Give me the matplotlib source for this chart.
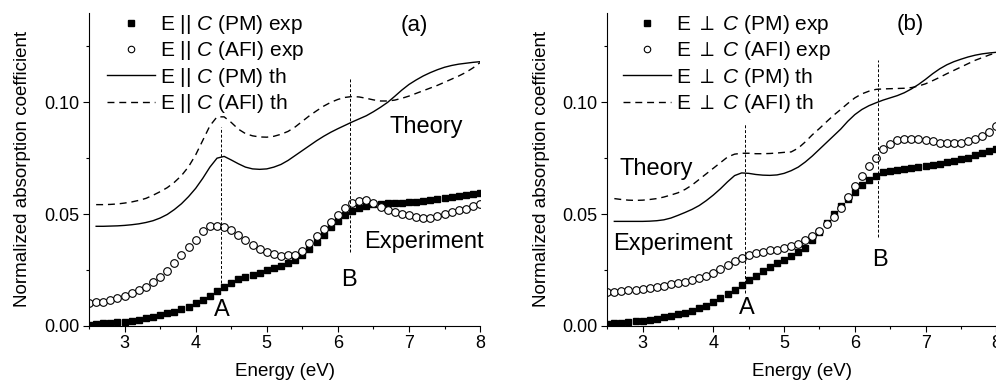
import numpy as np
import matplotlib
matplotlib.use('Agg')
import matplotlib.pyplot as plt

plt.rcParams['font.family'] = ['Liberation Sans', 'DejaVu Sans']
plt.rcParams['mathtext.fontset'] = 'custom'
plt.rcParams['mathtext.rm'] = 'Liberation Sans'
plt.rcParams['mathtext.it'] = 'Liberation Sans:italic'

# energy grids (eV)
energy_exp = np.round(np.arange(2.5, 8.01, 0.1), 2)
energy_th = np.round(np.arange(2.6, 8.01, 0.1), 2)

# ---- panel (a): E || C ----
a_pm_exp = [0.0005, 0.0008, 0.0010, 0.0012, 0.0015, 0.0018, 0.0022, 0.0027, 0.0033, 0.0040,
            0.0047, 0.0055, 0.0063, 0.0073, 0.0085, 0.0100, 0.0117, 0.0135, 0.0155, 0.0175,
            0.0193, 0.0207, 0.0218, 0.0228, 0.0238, 0.0248, 0.0258, 0.0268, 0.0280, 0.0295,
            0.0318, 0.0345, 0.0375, 0.0408, 0.0442, 0.0470, 0.0494, 0.0512, 0.0526, 0.0536,
            0.0543, 0.0547, 0.0549, 0.0550, 0.0551, 0.0552, 0.0555, 0.0559, 0.0564, 0.0569,
            0.0573, 0.0578, 0.0582, 0.0587, 0.0591, 0.0595]
a_afi_exp = [0.0100, 0.0104, 0.0108, 0.0116, 0.0125, 0.0135, 0.0145, 0.0158, 0.0175, 0.0195,
             0.0218, 0.0245, 0.0280, 0.0318, 0.0352, 0.0385, 0.0425, 0.0448, 0.0447, 0.0440,
             0.0428, 0.0408, 0.0385, 0.0362, 0.0345, 0.0330, 0.0320, 0.0312, 0.0315, 0.0318,
             0.0335, 0.0368, 0.0400, 0.0435, 0.0465, 0.0495, 0.0525, 0.0548, 0.0560, 0.0562,
             0.0550, 0.0533, 0.0520, 0.0510, 0.0502, 0.0495, 0.0488, 0.0484, 0.0484, 0.0490,
             0.0500, 0.0508, 0.0516, 0.0524, 0.0534, 0.0545]
a_pm_th = [0.0445, 0.0445, 0.0446, 0.0447, 0.0449, 0.0452, 0.0456, 0.0462, 0.0470, 0.0482,
           0.0498, 0.0520, 0.0546, 0.0578, 0.0615, 0.0660, 0.0710, 0.0750, 0.0758, 0.0742,
           0.0725, 0.0710, 0.0702, 0.0700, 0.0702, 0.0710, 0.0722, 0.0740, 0.0762, 0.0784,
           0.0806, 0.0828, 0.0848, 0.0866, 0.0882, 0.0897, 0.0912, 0.0926, 0.0940, 0.0958,
           0.0978, 0.1000, 0.1027, 0.1055, 0.1080, 0.1100, 0.1118, 0.1133, 0.1146, 0.1157,
           0.1165, 0.1171, 0.1175, 0.1179, 0.1182]
a_afi_th = [0.0542, 0.0542, 0.0543, 0.0545, 0.0549, 0.0554, 0.0561, 0.0570, 0.0584, 0.0600,
            0.0618, 0.0642, 0.0672, 0.0712, 0.0765, 0.0830, 0.0895, 0.0935, 0.0935, 0.0910,
            0.0880, 0.0860, 0.0850, 0.0845, 0.0844, 0.0848, 0.0857, 0.0870, 0.0890, 0.0915,
            0.0940, 0.0962, 0.0983, 0.1000, 0.1013, 0.1022, 0.1026, 0.1024, 0.1018, 0.1011,
            0.1006, 0.1006, 0.1010, 0.1018, 0.1028, 0.1040, 0.1052, 0.1064, 0.1076, 0.1090,
            0.1104, 0.1118, 0.1134, 0.1154, 0.1178]

# ---- panel (b): E perp C ----
b_pm_exp = [0.0008, 0.0010, 0.0013, 0.0016, 0.0019, 0.0022, 0.0026, 0.0031, 0.0037, 0.0044,
            0.0051, 0.0058, 0.0066, 0.0077, 0.0090, 0.0106, 0.0124, 0.0143, 0.0162, 0.0182,
            0.0203, 0.0224, 0.0244, 0.0263, 0.0279, 0.0295, 0.0311, 0.0328, 0.0350, 0.0383,
            0.0418, 0.0458, 0.0502, 0.0538, 0.0566, 0.0600, 0.0628, 0.0652, 0.0672, 0.0686,
            0.0694, 0.0699, 0.0703, 0.0707, 0.0711, 0.0715, 0.0720, 0.0725, 0.0731, 0.0738,
            0.0745, 0.0753, 0.0762, 0.0771, 0.0780, 0.0790]
b_afi_exp = [0.0150, 0.0153, 0.0156, 0.0159, 0.0162, 0.0166, 0.0170, 0.0174, 0.0179, 0.0185,
             0.0191, 0.0197, 0.0203, 0.0212, 0.0224, 0.0238, 0.0254, 0.0272, 0.0289, 0.0303,
             0.0315, 0.0325, 0.0332, 0.0337, 0.0341, 0.0346, 0.0355, 0.0367, 0.0383, 0.0403,
             0.0425, 0.0454, 0.0488, 0.0528, 0.0576, 0.0625, 0.0670, 0.0715, 0.0752, 0.0790,
             0.0815, 0.0830, 0.0836, 0.0836, 0.0834, 0.0830, 0.0825, 0.0820, 0.0817, 0.0817,
             0.0820, 0.0827, 0.0835, 0.0848, 0.0868, 0.0893]
b_pm_th = [0.0467, 0.0467, 0.0467, 0.0467, 0.0467, 0.0468, 0.0470, 0.0474, 0.0482, 0.0494,
           0.0507, 0.0521, 0.0538, 0.0560, 0.0585, 0.0613, 0.0644, 0.0672, 0.0684, 0.0682,
           0.0677, 0.0674, 0.0673, 0.0675, 0.0682, 0.0694, 0.0710, 0.0733, 0.0760, 0.0790,
           0.0820, 0.0850, 0.0880, 0.0915, 0.0945, 0.0968, 0.0985, 0.0998, 0.1010, 0.1020,
           0.1030, 0.1043, 0.1060, 0.1080, 0.1103, 0.1128, 0.1150, 0.1168, 0.1182, 0.1193,
           0.1203, 0.1211, 0.1217, 0.1221, 0.1224]
b_afi_th = [0.0569, 0.0565, 0.0562, 0.0561, 0.0562, 0.0565, 0.0569, 0.0576, 0.0585, 0.0595,
            0.0610, 0.0630, 0.0655, 0.0680, 0.0705, 0.0730, 0.0755, 0.0768, 0.0772, 0.0772,
            0.0770, 0.0770, 0.0771, 0.0773, 0.0776, 0.0778, 0.0795, 0.0823, 0.0855, 0.0883,
            0.0913, 0.0942, 0.0968, 0.0995, 0.1020, 0.1038, 0.1050, 0.1058, 0.1060, 0.1061,
            0.1062, 0.1063, 0.1066, 0.1073, 0.1083, 0.1097, 0.1112, 0.1128, 0.1143, 0.1158,
            0.1173, 0.1188, 0.1200, 0.1212, 0.1222]

# marker lines A/B: (energy, ymin, ymax)
a_vlines = [(4.35, 0.019, 0.089), (6.17, 0.033, 0.1115)]
b_vlines = [(4.45, 0.0145, 0.0904), (6.33, 0.0397, 0.119)]

# text annotations: (x, y, text)
a_texts = [(4.37, 0.007, 'A'), (6.15, 0.0204, 'B'), (7.25, 0.0888, 'Theory'),
           (7.21, 0.0374, 'Experiment')]
b_texts = [(4.47, 0.0078, 'A'), (6.36, 0.0293, 'B'), (3.19, 0.0703, 'Theory'),
           (3.43, 0.0365, 'Experiment')]

fig = plt.figure(figsize=(9.96, 3.82), dpi=100)
ax_a = fig.add_axes([0.0894, 0.1474, 0.3926, 0.8186])
ax_b = fig.add_axes([0.6097, 0.1474, 0.3906, 0.8186])


def draw_panel(ax, pm_exp, afi_exp, pm_th, afi_th, sym, vlines, texts, tag, tagpos, legx):
    ax.plot(energy_exp, pm_exp, 's', color='black', ms=5, mec='black',
            label='E %s $C$ (PM) exp' % sym)
    ax.plot(energy_exp, afi_exp, 'o', mfc='white', mec='black', ms=5.5, mew=0.8,
            label='E %s $C$ (AFI) exp' % sym)
    ax.plot(energy_th, pm_th, '-', color='black', lw=1.0,
            label='E %s $C$ (PM) th' % sym)
    ax.plot(energy_th, afi_th, color='black', lw=1.0, dashes=(5, 3.5),
            label='E %s $C$ (AFI) th' % sym)
    for x, y0, y1 in vlines:
        ax.plot([x, x], [y0, y1], color='black', lw=0.7, dashes=(3, 2))
    for x, y, t in texts:
        ax.text(x, y, t, fontsize=17, ha='center', va='center')
    ax.text(tagpos[0], tagpos[1], tag, fontsize=16, ha='center', va='center')

    ax.set_xlim(2.5, 8)
    ax.set_ylim(0, 0.14)
    ax.set_xticks([3, 4, 5, 6, 7, 8])
    ax.set_xticks(np.arange(2.5, 8.01, 0.5), minor=True)
    ax.set_yticks([0.0, 0.05, 0.10])
    ax.set_yticks([0.025, 0.075, 0.125], minor=True)
    ax.set_yticklabels(['0.00', '0.05', '0.10'])
    ax.tick_params(direction='out', labelsize=13, width=0.8, length=4, pad=3)
    ax.tick_params(which='minor', direction='out', width=0.8, length=2.5)
    for s in ['top', 'right']:
        ax.spines[s].set_visible(False)
    for s in ['left', 'bottom']:
        ax.spines[s].set_linewidth(0.8)
    ax.set_xlabel('Energy (eV)', fontsize=13.5)
    ax.set_ylabel('Normalized absorption coefficient', fontsize=13.5)
    ax.xaxis.set_label_coords(0.5, -0.12)
    ax.yaxis.set_label_coords(-0.148, 0.5)
    ax.legend(loc='upper left', bbox_to_anchor=(legx, 1.0), frameon=False, fontsize=15,
              numpoints=1, markerscale=0.85, handlelength=2.3, handletextpad=0.25,
              labelspacing=0.16, borderpad=0, borderaxespad=0)


draw_panel(ax_a, a_pm_exp, a_afi_exp, a_pm_th, a_afi_th, '||', a_vlines, a_texts,
           '(a)', (7.08, 0.1343), 0.046)
draw_panel(ax_b, b_pm_exp, b_afi_exp, b_pm_th, b_afi_th, r'$\perp$', b_vlines, b_texts,
           '(b)', (6.79, 0.135), 0.041)

fig.savefig('out.png', dpi=100)
